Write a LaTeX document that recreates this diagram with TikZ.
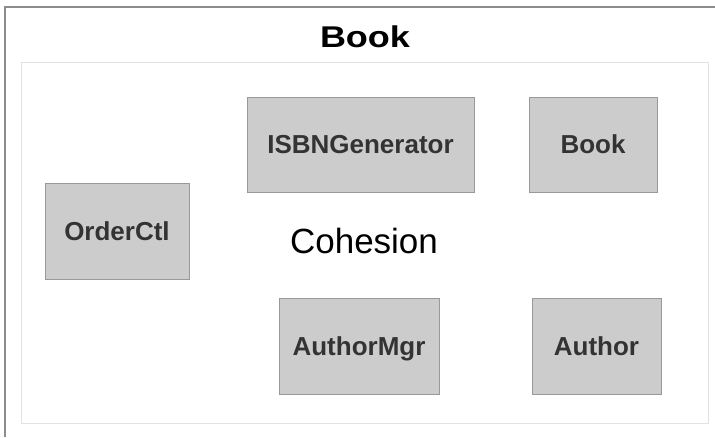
\documentclass[tikz,border=0pt]{standalone}
\usepackage{fontspec}
\setmainfont{Liberation Sans}
\usetikzlibrary{positioning}

\definecolor{boxfill}{HTML}{CCCCCC}
\definecolor{boxline}{HTML}{999999}
\definecolor{boxtext}{HTML}{333333}
\definecolor{frameline}{HTML}{8C8C8C}
\definecolor{innerline}{HTML}{E2E2E2}

\tikzset{
  classbox/.style={draw=boxline, fill=boxfill, line width=1pt, inner sep=0pt,
    text=boxtext, font=\fontsize{26}{26}\selectfont\bfseries,
    text height=18.6pt, text depth=0pt},
}

\begin{document}
\begin{tikzpicture}[x=1pt, y=-1pt]
  \useasboundingbox (0,0) rectangle (715,437);
  % outer package frame (runs off the right and bottom)
  \draw[frameline, line width=1.5pt] (5,437) -- (5,7) -- (715,7);
  \node[anchor=base, font=\fontsize{30}{30}\selectfont\bfseries] (title) at (365,47) {\scalebox{1.2}[1]{Book}};
  % inner area
  \draw[innerline, line width=1pt] (21,62) rectangle (708,423);
  % classes
  \node[classbox, minimum width=227pt, minimum height=95pt] (isbn) at (360.5,144.5) {ISBNGenerator};
  \node[classbox, minimum width=128pt, minimum height=95pt] (book) at (593,144.5) {Book};
  \node[classbox, minimum width=144pt, minimum height=96pt] (order) at (117,231) {OrderCtl};
  \node[classbox, minimum width=160pt, minimum height=96pt] (authormgr) at (359,346) {AuthorMgr};
  \node[classbox, minimum width=129pt, minimum height=96pt] (author) at (596.5,346) {Author};
  \node[anchor=base, font=\fontsize{35}{35}\selectfont] (cohesion) at (364,253) {Cohesion};
\end{tikzpicture}
\end{document}
